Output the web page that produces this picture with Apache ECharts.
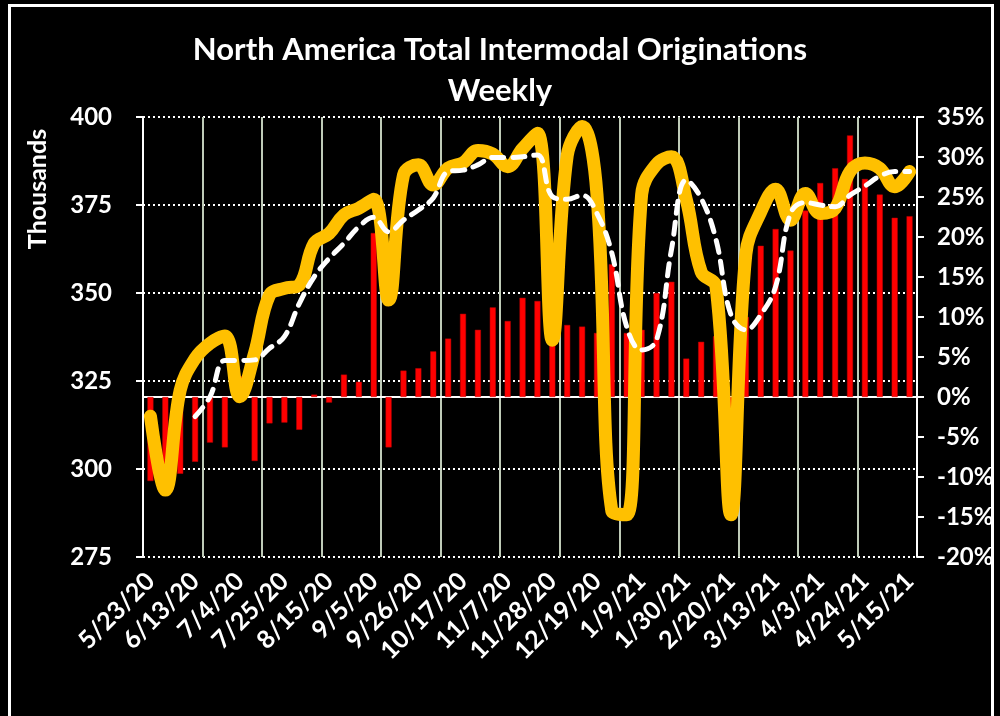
<!DOCTYPE html>
<html>
<head>
<meta charset="utf-8">
<script src="https://cdn.jsdelivr.net/npm/echarts@6/dist/echarts.min.js"></script>
<style>
  html, body { margin: 0; padding: 0; background: #000; }
  #chart { width: 1000px; height: 716px; }
</style>
</head>
<body>
<div id="chart"></div>
<script>
var weeks = ['5/23/20','5/30/20','6/6/20','6/13/20','6/20/20','6/27/20','7/4/20','7/11/20','7/18/20','7/25/20',
  '8/1/20','8/8/20','8/15/20','8/22/20','8/29/20','9/5/20','9/12/20','9/19/20','9/26/20','10/3/20',
  '10/10/20','10/17/20','10/24/20','10/31/20','11/7/20','11/14/20','11/21/20','11/28/20','12/5/20','12/12/20',
  '12/19/20','12/26/20','1/2/21','1/9/21','1/16/21','1/23/21','1/30/21','2/6/21','2/13/21','2/20/21',
  '2/27/21','3/6/21','3/13/21','3/20/21','3/27/21','4/3/21','4/10/21','4/17/21','4/24/21','5/1/21',
  '5/8/21','5/15/21'];

// weekly originations, thousands (left axis)
var weekly = [315, 294, 322.4, 331.4, 335.7, 337.8, 320.5, 333, 349.4, 351.3,
  352.3, 364.1, 366.9, 372.2, 374.1, 376.6, 348, 383.5, 386.4, 380.7,
  385.5, 387, 390.5, 389.5, 385.9, 391, 395.4, 336.6, 389, 397.3,
  378, 288, 287, 378, 386.6, 388.7, 376.5, 356, 351.8, 287,
  361, 373, 379.5, 370.7, 378.3, 372.6, 374, 384.5, 386.9, 385.4,
  380.2, 384.5];

// moving average, thousands (left axis)
var avg = [null, null, null, 314.9, 320.5, 330.8, 330.8, 331, 334.3, 337.6,
  347, 354.6, 359.8, 364.1, 368.8, 371.5, 367.4, 370.7, 373.6, 377,
  384.5, 384.9, 386.4, 388.5, 388.5, 388.7, 389.2, 377.4, 376.6, 377.8,
  372.6, 361.3, 340.4, 333.8, 336.6, 362.2, 382.1, 376.9, 365.1, 343.8,
  339.5, 343.8, 351.8, 372.6, 375.7, 375, 374.5, 377.8, 380.4, 383.2,
  384.5, 384.5];

// year-over-year change, % (right axis)
var yoy = [-10.5, -11, -9.6, -8.1, -5.7, -6.3, 2.6, -8.0, -3.3, -3.2,
  -4.1, 0.3, -0.7, 2.8, 1.9, 20.5, -6.3, 3.3, 3.6, 5.7,
  7.3, 10.4, 8.4, 11.2, 9.5, 12.4, 12.0, 10, 9.0, 8.8,
  8.0, 16.6, 8, 8.4, 13.0, 14.4, 4.8, 6.9, 7.6, -10,
  10, 18.9, 21.0, 18.3, 23.3, 26.75, 28.6, 32.7, 27.25, 25.3,
  22.4, 22.6];

var font = 'Lato, "Open Sans", sans-serif';
var chart = echarts.init(document.getElementById('chart'));

var option = {
  backgroundColor: '#000',
  animation: false,
  title: {
    text: 'North America Total Intermodal Originations\nWeekly',
    left: 'center',
    top: 24,
    textStyle: { color: '#fff', fontFamily: font, fontWeight: 'bold', fontSize: 31, lineHeight: 41 }
  },
  graphic: [
    { type: 'rect', shape: { x: 9.5, y: 5.5, width: 983, height: 730 },
      style: { fill: 'none', stroke: '#fff', lineWidth: 3 } },
    { type: 'text', x: 38, y: 189, rotation: Math.PI / 2,
      style: { text: 'Thousands', fill: '#fff', font: 'bold 25px ' + font, align: 'center', verticalAlign: 'middle' } }
  ],
  grid: { left: 143, right: 83, top: 117, bottom: 159, containLabel: false },
  xAxis: {
    type: 'category',
    data: weeks,
    boundaryGap: true,
    axisLine: { lineStyle: { color: '#fff', width: 2 } },
    axisTick: { interval: 3, length: 8, lineStyle: { color: '#fff', width: 2 } },
    axisLabel: { interval: 2, rotate: 45, color: '#fff', fontFamily: font, fontWeight: 'bold', fontSize: 25, margin: 20 },
    splitLine: { show: true, interval: 3, lineStyle: { color: '#bfcbb8', width: 2 } }
  },
  yAxis: [
    {
      type: 'value', min: 275, max: 400, interval: 25,
      axisLine: { show: true, lineStyle: { color: '#fff', width: 2 } },
      axisTick: { show: true, length: 7, lineStyle: { color: '#fff', width: 2 } },
      axisLabel: { color: '#fff', fontFamily: font, fontWeight: 'bold', fontSize: 24, margin: 31 },
      splitLine: { show: true, lineStyle: { color: '#fff', type: [2, 3], width: 2 } }
    },
    {
      type: 'value', min: -20, max: 35, interval: 5,
      axisLine: { show: true, lineStyle: { color: '#fff', width: 2 } },
      axisTick: { show: true, length: 7, lineStyle: { color: '#fff', width: 2 } },
      axisLabel: { color: '#fff', fontFamily: font, fontWeight: 'bold', fontSize: 24, margin: 20, formatter: '{value}%' },
      splitLine: { show: false }
    }
  ],
  series: [
    {
      name: 'YoY', type: 'bar', yAxisIndex: 1, data: yoy,
      barWidth: 6,
      itemStyle: { color: '#ff0000', borderColor: '#c00000', borderWidth: 0.5 }
    },
    {
      name: 'Weekly', type: 'line', yAxisIndex: 0, data: weekly,
      smooth: 0.4, symbol: 'none',
      lineStyle: { color: '#ffc000', width: 13, cap: 'round', join: 'round' }
    },
    {
      name: 'Average', type: 'line', yAxisIndex: 0, data: avg,
      smooth: 0.4, symbol: 'none',
      lineStyle: { color: '#fff', width: 5, type: [12, 9], cap: 'round' }
    }
  ]
};

chart.setOption(option);
</script>
</body>
</html>
